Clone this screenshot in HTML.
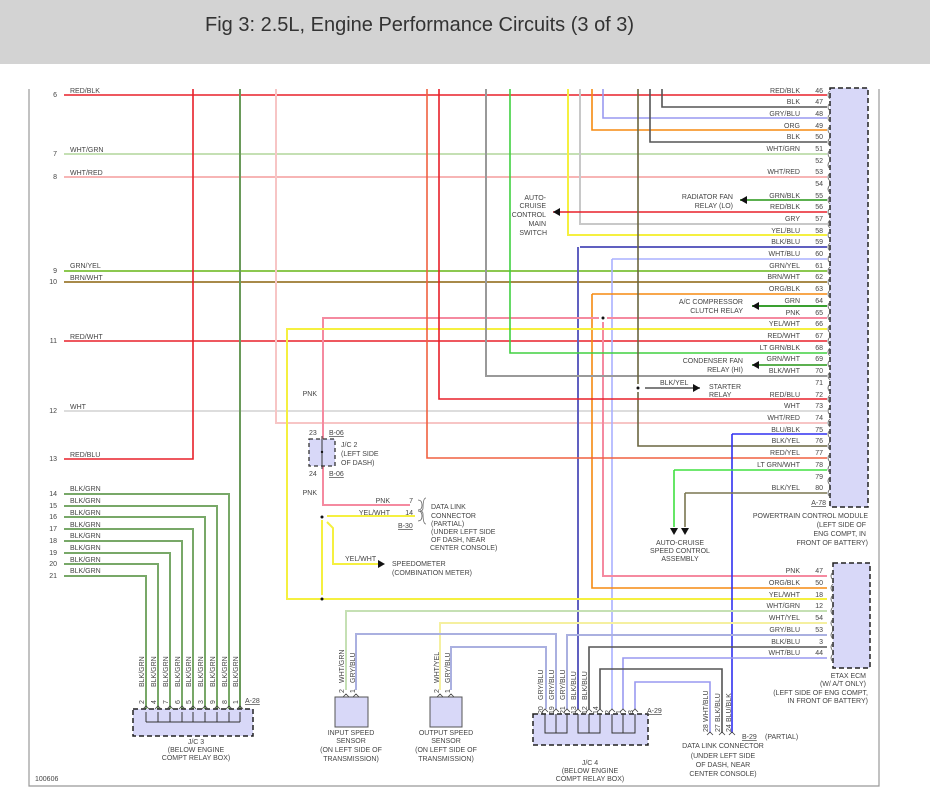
<!DOCTYPE html>
<html><head><meta charset="utf-8"><style>
html,body{margin:0;padding:0;background:#fff;width:930px;height:796px;overflow:hidden}
svg{display:block}
text{font-family:"Liberation Sans",sans-serif;font-size:7px;fill:#444}
</style></head><body>
<svg width="930" height="796" viewBox="0 0 930 796" xmlns="http://www.w3.org/2000/svg">
<rect x="0" y="0" width="930" height="64" fill="#d3d3d3"/>
<text x="205" y="31" style="font-size:20px;fill:#333">Fig 3: 2.5L, Engine Performance Circuits (3 of 3)</text>
<g fill="none" stroke-width="1.6">
<!-- frame -->
<path d="M29 89V786H879V89" stroke="#999" stroke-width="1.2"/>
<!-- left rows to PCM -->
<path d="M64 95H827" stroke="#e8202a"/>
<path d="M64 154H827" stroke="#c5e0b4" stroke-width="2"/>
<path d="M64 177H827" stroke="#f7b5b5" stroke-width="2"/>
<path d="M64 271H827" stroke="#8cc850" stroke-width="2"/>
<path d="M64 282H827" stroke="#a88a4a" stroke-width="2"/>
<path d="M64 341H827" stroke="#e8202a"/>
<path d="M64 411H827" stroke="#ddd" stroke-width="2"/>
<path d="M64 459H193V89" stroke="#e8202a"/>
<path d="M240 89V709" stroke="#6a9a5a" stroke-width="2"/>
<path d="M276 89V423H827" stroke="#f7c5c5" stroke-width="2"/>
<!-- BLK/GRN rows -->
<g stroke="#78a868" stroke-width="2">
<path d="M64 494H229V709"/><path d="M64 506H217V709"/><path d="M64 517H205V709"/><path d="M64 529H193V709"/>
<path d="M64 541H182V709"/><path d="M64 553H170V709"/><path d="M64 564H158V709"/><path d="M64 576H146V709"/>
</g>
<!-- top verticals -->
<path d="M662 89V107H827" stroke="#555"/>
<path d="M603 89V118H827" stroke="#9999f0"/>
<path d="M592 89V130H827" stroke="#f58a10"/>
<path d="M650 89V142H827" stroke="#555"/>
<path d="M568 89V235H827" stroke="#f5f040" stroke-width="2"/>
<path d="M580 89V224H827" stroke="#c8c8c8" stroke-width="2"/>
<path d="M553 212H827" stroke="#e8202a"/>
<path d="M740 200H827" stroke="#5cb050" stroke-width="2"/>
<path d="M580 247H827M578 247V709" stroke="#6060c0" stroke-width="2"/>
<path d="M612 259H827M612 259V709" stroke="#aab0ff"/>
<path d="M592 294H827M592 294V588H827" stroke="#f58a10"/>
<path d="M752 306H827" stroke="#3aa030" stroke-width="2"/>
<path d="M827 318H607M599 318H323V505H410" stroke="#f58aa0" stroke-width="2"/>
<path d="M603 322V576H827" stroke="#f58aa0" stroke-width="2"/>
<path d="M827 329H287V599H827" stroke="#f5f040" stroke-width="2"/>
<path d="M327 516H415M322 520V595" stroke="#f5f040" stroke-width="2"/>
<path d="M327 522L333 528V564H380" stroke="#f5f040" stroke-width="2"/>
<path d="M510 89V353H827" stroke="#40d040"/>
<path d="M752 365H827" stroke="#5cb050" stroke-width="2"/>
<path d="M486 89V376H827" stroke="#999" stroke-width="2"/>
<path d="M638 89V384M638 392V446H827" stroke="#6a6640"/>
<path d="M645 388H700" stroke="#555"/>
<path d="M439 89V399H827" stroke="#e8202a"/>
<path d="M427 89V458H827" stroke="#f06040"/>
<path d="M732 434H827M732 434V733" stroke="#3030f0"/>
<path d="M674 470H827M674 470V527" stroke="#40e040"/>
<path d="M685 493H827M685 493V527" stroke="#7a7650"/>
<!-- ETAX to sensors / JC4 -->
<path d="M827 611H346V690" stroke="#c5e0b4" stroke-width="2"/>
<path d="M827 623H440V690" stroke="#f5f0a0" stroke-width="2"/>
<path d="M827 635H567V709" stroke="#aab0e0" stroke-width="2"/>
<path d="M356 690V634H556V709" stroke="#aab0e0" stroke-width="2"/>
<path d="M451 690V647H546V709" stroke="#aab0e0" stroke-width="2"/>
<path d="M827 647H589V709" stroke="#555"/>
<path d="M827 658H623V709" stroke="#9999f0"/>
<path d="M600 709V669H722V733" stroke="#555"/>
<path d="M635 709V682H710V733" stroke="#9999f0"/>
</g>
<!-- arrowheads -->
<g fill="#111">
<path d="M553 212l7-4v8z"/><path d="M740 200l7-4v8z"/><path d="M752 306l7-4v8z"/><path d="M752 365l7-4v8z"/>
<path d="M700 388l-7-4v8z"/><path d="M385 564l-7-4v8z"/>
<path d="M674 535l-4-7h8z"/><path d="M685 535l-4-7h8z"/>
<circle cx="603" cy="318" r="1.5"/><circle cx="638" cy="388" r="1.5"/><circle cx="322" cy="517" r="1.5"/><circle cx="322" cy="599" r="1.5"/>
</g>
<!-- PCM & ETAX boxes -->
<rect x="830" y="88" width="38" height="419" fill="#d8d8f8" stroke="#222" stroke-dasharray="5,3" stroke-width="1.5"/>
<rect x="833" y="563" width="37" height="105" fill="#d8d8f8" stroke="#222" stroke-dasharray="5,3" stroke-width="1.5"/>
<g fill="none" stroke="#666" stroke-width="0.8">
<path d="M830 91q-4 4 0 8M830 103q-4 4 0 8M830 114q-4 4 0 8M830 126q-4 4 0 8M830 138q-4 4 0 8M830 150q-4 4 0 8M830 161q-4 4 0 8M830 173q-4 4 0 8M830 185q-4 4 0 8M830 196q-4 4 0 8M830 208q-4 4 0 8M830 220q-4 4 0 8M830 231q-4 4 0 8M830 243q-4 4 0 8M830 255q-4 4 0 8M830 267q-4 4 0 8M830 278q-4 4 0 8M830 290q-4 4 0 8M830 302q-4 4 0 8M830 313q-4 4 0 8M830 325q-4 4 0 8M830 337q-4 4 0 8M830 348q-4 4 0 8M830 360q-4 4 0 8M830 372q-4 4 0 8M830 384q-4 4 0 8M830 395q-4 4 0 8M830 407q-4 4 0 8M830 419q-4 4 0 8M830 430q-4 4 0 8M830 442q-4 4 0 8M830 454q-4 4 0 8M830 465q-4 4 0 8M830 477q-4 4 0 8M830 489q-4 4 0 8"/>
<path d="M833 572q-4 4 0 8M833 584q-4 4 0 8M833 595q-4 4 0 8M833 607q-4 4 0 8M833 619q-4 4 0 8M833 631q-4 4 0 8M833 643q-4 4 0 8M833 654q-4 4 0 8"/>
</g>
<!-- PCM labels -->
<g text-anchor="end">
<text x="800" y="93">RED/BLK</text><text x="800" y="104">BLK</text><text x="800" y="116">GRY/BLU</text><text x="800" y="128">ORG</text><text x="800" y="139">BLK</text><text x="800" y="151">WHT/GRN</text><text x="800" y="174">WHT/RED</text><text x="800" y="198">GRN/BLK</text><text x="800" y="209">RED/BLK</text><text x="800" y="221">GRY</text><text x="800" y="233">YEL/BLU</text><text x="800" y="244">BLK/BLU</text><text x="800" y="256">WHT/BLU</text><text x="800" y="268">GRN/YEL</text><text x="800" y="279">BRN/WHT</text><text x="800" y="291">ORG/BLK</text><text x="800" y="303">GRN</text><text x="800" y="315">PNK</text><text x="800" y="326">YEL/WHT</text><text x="800" y="338">RED/WHT</text><text x="800" y="350">LT GRN/BLK</text><text x="800" y="361">GRN/WHT</text><text x="800" y="373">BLK/WHT</text><text x="800" y="397">RED/BLU</text><text x="800" y="408">WHT</text><text x="800" y="420">WHT/RED</text><text x="800" y="432">BLU/BLK</text><text x="800" y="443">BLK/YEL</text><text x="800" y="455">RED/YEL</text><text x="800" y="467">LT GRN/WHT</text><text x="800" y="490">BLK/YEL</text>
<text x="800" y="573">PNK</text><text x="800" y="585">ORG/BLK</text><text x="800" y="597">YEL/WHT</text><text x="800" y="608">WHT/GRN</text><text x="800" y="620">WHT/YEL</text><text x="800" y="632">GRY/BLU</text><text x="800" y="644">BLK/BLU</text><text x="800" y="655">WHT/BLU</text>
<text x="823" y="93">46</text><text x="823" y="104">47</text><text x="823" y="116">48</text><text x="823" y="128">49</text><text x="823" y="139">50</text><text x="823" y="151">51</text><text x="823" y="163">52</text><text x="823" y="174">53</text><text x="823" y="186">54</text><text x="823" y="198">55</text><text x="823" y="209">56</text><text x="823" y="221">57</text><text x="823" y="233">58</text><text x="823" y="244">59</text><text x="823" y="256">60</text><text x="823" y="268">61</text><text x="823" y="279">62</text><text x="823" y="291">63</text><text x="823" y="303">64</text><text x="823" y="315">65</text><text x="823" y="326">66</text><text x="823" y="338">67</text><text x="823" y="350">68</text><text x="823" y="361">69</text><text x="823" y="373">70</text><text x="823" y="385">71</text><text x="823" y="397">72</text><text x="823" y="408">73</text><text x="823" y="420">74</text><text x="823" y="432">75</text><text x="823" y="443">76</text><text x="823" y="455">77</text><text x="823" y="467">78</text><text x="823" y="479">79</text><text x="823" y="490">80</text>
<text x="823" y="573">47</text><text x="823" y="585">50</text><text x="823" y="597">18</text><text x="823" y="608">12</text><text x="823" y="620">54</text><text x="823" y="632">53</text><text x="823" y="644">3</text><text x="823" y="655">44</text>
<text x="826" y="505" text-decoration="underline">A-78</text>
<text x="868" y="518">POWERTRAIN CONTROL MODULE</text><text x="866" y="527">(LEFT SIDE OF</text><text x="866" y="536">ENG COMPT, IN</text><text x="868" y="545">FRONT OF BATTERY)</text>
<text x="866" y="678">ETAX ECM</text><text x="866" y="686">(W/ A/T ONLY)</text><text x="868" y="695">(LEFT SIDE OF ENG COMPT,</text><text x="868" y="703">IN FRONT OF BATTERY)</text>
<text x="546" y="200">AUTO-</text><text x="546" y="208">CRUISE</text><text x="546" y="217">CONTROL</text><text x="546" y="226">MAIN</text><text x="547" y="235">SWITCH</text>
<text x="733" y="199">RADIATOR FAN</text><text x="733" y="208">RELAY (LO)</text>
<text x="743" y="304">A/C COMPRESSOR</text><text x="743" y="313">CLUTCH RELAY</text>
<text x="743" y="363">CONDENSER FAN</text><text x="743" y="372">RELAY (HI)</text>
<text x="57" y="97">6</text><text x="57" y="156">7</text><text x="57" y="179">8</text><text x="57" y="273">9</text><text x="57" y="284">10</text><text x="57" y="343">11</text><text x="57" y="413">12</text><text x="57" y="461">13</text><text x="57" y="496">14</text><text x="57" y="508">15</text><text x="57" y="519">16</text><text x="57" y="531">17</text><text x="57" y="543">18</text><text x="57" y="555">19</text><text x="57" y="566">20</text><text x="57" y="578">21</text>
<text x="317" y="396">PNK</text><text x="317" y="495">PNK</text>
<text x="390" y="503">PNK</text><text x="413" y="503">7</text><text x="390" y="515">YEL/WHT</text><text x="413" y="515">14</text>
</g>
<text x="660" y="385">BLK/YEL</text><text x="709" y="389">STARTER</text><text x="709" y="397">RELAY</text>
<g text-anchor="middle"><text x="680" y="545">AUTO-CRUISE</text><text x="680" y="553">SPEED CONTROL</text><text x="680" y="561">ASSEMBLY</text></g>
<g>
<text x="70" y="93">RED/BLK</text><text x="70" y="152">WHT/GRN</text><text x="70" y="175">WHT/RED</text><text x="70" y="268">GRN/YEL</text><text x="70" y="280">BRN/WHT</text><text x="70" y="339">RED/WHT</text><text x="70" y="409">WHT</text><text x="70" y="457">RED/BLU</text>
<text x="70" y="491">BLK/GRN</text><text x="70" y="503">BLK/GRN</text><text x="70" y="515">BLK/GRN</text><text x="70" y="527">BLK/GRN</text><text x="70" y="538">BLK/GRN</text><text x="70" y="550">BLK/GRN</text><text x="70" y="562">BLK/GRN</text><text x="70" y="573">BLK/GRN</text>
</g>
<!-- J/C2 -->
<rect x="309" y="439" width="26" height="27" fill="#d8d8f8" stroke="#333" stroke-dasharray="4,3" stroke-width="1.3"/>
<path d="M322 436V469" stroke="#333" stroke-width="1"/>
<circle cx="322" cy="452" r="1.2" fill="#111"/>
<text x="309" y="435">23</text><text x="329" y="435" text-decoration="underline">B-06</text>
<text x="309" y="476">24</text><text x="329" y="476" text-decoration="underline">B-06</text>
<text x="341" y="447">J/C 2</text><text x="341" y="456">(LEFT SIDE</text><text x="341" y="465">OF DASH)</text>
<path d="M418 500q4 0 4 5q0 5 -4 5M418 511q4 0 4 5q0 5-4 5M426 498q-3 0-3 10q0 3-3 3q3 0 3 3q0 10 3 10" fill="none" stroke="#666" stroke-width="0.8"/>
<text x="398" y="528" text-decoration="underline">B-30</text>
<text x="431" y="509">DATA LINK</text><text x="431" y="518">CONNECTOR</text><text x="431" y="526">(PARTIAL)</text><text x="431" y="534">(UNDER LEFT SIDE</text><text x="431" y="542">OF DASH, NEAR</text><text x="430" y="550">CENTER CONSOLE)</text>
<text x="345" y="561">YEL/WHT</text><text x="392" y="566">SPEEDOMETER</text><text x="392" y="575">(COMBINATION METER)</text>
<!-- J/C3 -->
<rect x="133" y="709" width="120" height="27" fill="#d8d8f8" stroke="#222" stroke-dasharray="5,3" stroke-width="1.5"/>
<path d="M146 722H240M146 712V722M158 712V722M170 712V722M182 712V722M193 712V722M205 712V722M217 712V722M229 712V722M240 712V722" stroke="#333" stroke-width="1" fill="none"/>
<g fill="none" stroke="#444" stroke-width="0.8"><path d="M143 709l3-3 3 3M155 709l3-3 3 3M167 709l3-3 3 3M179 709l3-3 3 3M190 709l3-3 3 3M202 709l3-3 3 3M214 709l3-3 3 3M226 709l3-3 3 3M237 709l3-3 3 3"/></g>
<g style="font-size:6.5px">
<text transform="translate(144,687) rotate(-90)">BLK/GRN</text><text transform="translate(156,687) rotate(-90)">BLK/GRN</text><text transform="translate(168,687) rotate(-90)">BLK/GRN</text><text transform="translate(180,687) rotate(-90)">BLK/GRN</text><text transform="translate(191,687) rotate(-90)">BLK/GRN</text><text transform="translate(203,687) rotate(-90)">BLK/GRN</text><text transform="translate(215,687) rotate(-90)">BLK/GRN</text><text transform="translate(227,687) rotate(-90)">BLK/GRN</text><text transform="translate(238,687) rotate(-90)">BLK/GRN</text>
<text transform="translate(144,704) rotate(-90)">2</text><text transform="translate(156,704) rotate(-90)">4</text><text transform="translate(168,704) rotate(-90)">7</text><text transform="translate(180,704) rotate(-90)">6</text><text transform="translate(191,704) rotate(-90)">5</text><text transform="translate(203,704) rotate(-90)">3</text><text transform="translate(215,704) rotate(-90)">9</text><text transform="translate(227,704) rotate(-90)">8</text><text transform="translate(238,704) rotate(-90)">1</text>
</g>
<text x="245" y="703" text-decoration="underline">A-28</text>
<g text-anchor="middle"><text x="196" y="744">J/C 3</text><text x="196" y="752">(BELOW ENGINE</text><text x="196" y="760">COMPT RELAY BOX)</text></g>
<text x="35" y="781">100606</text>
<!-- sensors -->
<rect x="335" y="697" width="33" height="30" fill="#d8d8f8" stroke="#555"/>
<rect x="430" y="697" width="32" height="30" fill="#d8d8f8" stroke="#555"/>
<g fill="none" stroke="#444" stroke-width="0.8"><path d="M343 697l3-3 3 3M353 697l3-3 3 3M437 697l3-3 3 3M448 697l3-3 3 3"/></g>
<g style="font-size:6.5px">
<text transform="translate(344,683) rotate(-90)">WHT/GRN</text><text transform="translate(355,683) rotate(-90)">GRY/BLU</text>
<text transform="translate(439,683) rotate(-90)">WHT/YEL</text><text transform="translate(450,683) rotate(-90)">GRY/BLU</text>
<text transform="translate(344,693) rotate(-90)">2</text><text transform="translate(355,693) rotate(-90)">1</text><text transform="translate(439,693) rotate(-90)">2</text><text transform="translate(450,693) rotate(-90)">1</text>
</g>
<g text-anchor="middle"><text x="351" y="735">INPUT SPEED</text><text x="351" y="743">SENSOR</text><text x="351" y="752">(ON LEFT SIDE OF</text><text x="351" y="761">TRANSMISSION)</text>
<text x="446" y="735">OUTPUT SPEED</text><text x="446" y="743">SENSOR</text><text x="446" y="752">(ON LEFT SIDE OF</text><text x="446" y="761">TRANSMISSION)</text></g>
<!-- J/C4 -->
<rect x="533" y="714" width="115" height="31" fill="#d8d8f8" stroke="#222" stroke-dasharray="5,3" stroke-width="1.5"/>
<path d="M545 714V733H567V714M556 714V733M578 714V733H600V714M589 714V733M612 714V733H635V714M623 714V733" stroke="#333" stroke-width="1" fill="none"/>
<g fill="none" stroke="#444" stroke-width="0.8"><path d="M542 712l3-3 3 3M553 712l3-3 3 3M564 712l3-3 3 3M575 712l3-3 3 3M586 712l3-3 3 3M597 712l3-3 3 3M609 712l3-3 3 3M620 712l3-3 3 3M632 712l3-3 3 3M707 735l3-3 3 3M719 735l3-3 3 3M729 735l3-3 3 3"/></g>
<g style="font-size:6.5px">
<text transform="translate(543,700) rotate(-90)">GRY/BLU</text><text transform="translate(554,700) rotate(-90)">GRY/BLU</text><text transform="translate(565,700) rotate(-90)">GRY/BLU</text><text transform="translate(576,700) rotate(-90)">BLK/BLU</text><text transform="translate(587,700) rotate(-90)">BLK/BLU</text>
<text transform="translate(543,714) rotate(-90)">20</text><text transform="translate(554,714) rotate(-90)">19</text><text transform="translate(565,714) rotate(-90)">21</text><text transform="translate(576,714) rotate(-90)">13</text><text transform="translate(587,714) rotate(-90)">12</text><text transform="translate(598,714) rotate(-90)">14</text><text transform="translate(610,714) rotate(-90)">2</text><text transform="translate(621,714) rotate(-90)">1</text><text transform="translate(633,714) rotate(-90)">3</text>
<text transform="translate(708,722) rotate(-90)">WHT/BLU</text><text transform="translate(720,722) rotate(-90)">BLK/BLU</text><text transform="translate(731,722) rotate(-90)">BLU/BLK</text>
<text transform="translate(708,732) rotate(-90)">28</text><text transform="translate(720,732) rotate(-90)">27</text><text transform="translate(731,732) rotate(-90)">24</text>
</g>
<text x="647" y="713" text-decoration="underline">A-29</text>
<g text-anchor="middle"><text x="590" y="765">J/C 4</text><text x="590" y="773">(BELOW ENGINE</text><text x="590" y="781">COMPT RELAY BOX)</text>
<text x="723" y="748">DATA LINK CONNECTOR</text><text x="723" y="758">(UNDER LEFT SIDE</text><text x="723" y="767">OF DASH, NEAR</text><text x="723" y="776">CENTER CONSOLE)</text></g>
<text x="742" y="739" text-decoration="underline">B-29</text><text x="765" y="739">(PARTIAL)</text>
</svg>
</body></html>
